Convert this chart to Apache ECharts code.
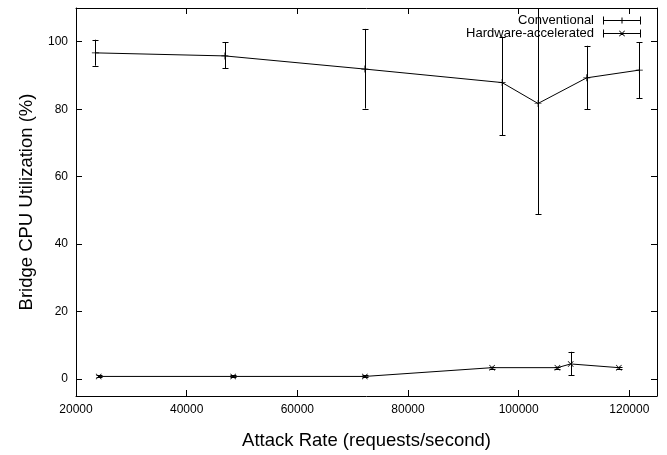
<!DOCTYPE html>
<html><head><meta charset="utf-8">
<script src="https://cdn.jsdelivr.net/npm/echarts@6/dist/echarts.min.js"></script>
<style>html,body{margin:0;padding:0;background:#fff}#c{width:667px;height:455px}</style>
</head><body><div id="c"></div>
<script>
// Conventional
const convX = [23500, 46900, 72200, 97000, 103500, 112300, 121800];
const convY = [96.7, 95.8, 91.9, 87.9, 81.7, 89.3, 91.6];
const convLow = [92.9, 92.1, 80.2, 72.3, 48.9, 80.0, 83.3];
const convHigh = [100.6, 99.8, 103.8, 101.5, 125, 98.8, 99.8];
// Hardware-accelerated
const hwX = [24100, 48400, 72200, 95200, 107000, 109400, 118100];
const hwY = [0.8, 0.8, 0.8, 3.4, 3.4, 4.5, 3.4];
const hwLow = [0.5, 0.5, 0.5, 3.1, 3.1, 1.1, 3.1];
const hwHigh = [1.1, 1.1, 1.1, 3.7, 3.7, 8.1, 3.7];
// Axes
const xMin = 20000, xMax = 125000, xInterval = 20000;
const yMin = -5, yMax = 110;
const seriesNames = ['Conventional', 'Hardware-accelerated'];
const xTitle = 'Attack Rate (requests/second)';
const yTitle = 'Bridge CPU Utilization (%)';

const FONT = 'Liberation Sans, Arial, sans-serif';
const plusSym = 'path://M0,4.5h10v1h-10z M4.5,0h1v10h-1z';
const crossSym = 'path://M0,0.8L0.8,0L10,9.2L9.2,10Z M9.2,0L10,0.8L0.8,10L0,9.2Z';
const legPlus = 'path://M0,0h1v8h-1z M37,0h1v8h-1z M0,3.5h38v1h-38z M18.5,1h1v6h-1z';
const legCross = 'path://M0,0h1v8h-1z M37,0h1v8h-1z M0,3.5h38v1h-38z M16,1.6L16.6,1L22,6.4L21.4,7Z M21.4,1L22,1.6L16.6,7L16,6.4Z';

function zip2(a, b) { return a.map((v, i) => [v, b[i]]); }
function zip3(a, b, c) { return a.map((v, i) => [v, b[i], c[i]]); }

function errRender(params, api) {
  const x = api.value(0), lo = api.value(1), hi = api.value(2);
  const pLo = api.coord([x, lo]), pHi = api.coord([x, hi]);
  const cs = params.coordSys;
  const top = cs.y, bottom = cs.y + cs.height;
  const hw = 3;
  const st = { stroke: '#000', lineWidth: 1 };
  const cx = Math.round(pLo[0]) + 0.5;
  const y1 = Math.max(pHi[1], top), y2 = Math.min(pLo[1], bottom);
  const children = [{ type: 'line', shape: { x1: cx, y1: y1, x2: cx, y2: y2 }, style: st }];
  if (pHi[1] >= top) {
    const yy = Math.round(pHi[1]) + 0.5;
    children.push({ type: 'line', shape: { x1: cx - hw, y1: yy, x2: cx + hw, y2: yy }, style: st });
  }
  if (pLo[1] <= bottom) {
    const yy = Math.round(pLo[1]) + 0.5;
    children.push({ type: 'line', shape: { x1: cx - hw, y1: yy, x2: cx + hw, y2: yy }, style: st });
  }
  return { type: 'group', children: children };
}

const axisCommon = {
  type: 'value',
  axisLine: { show: true, onZero: false, lineStyle: { color: '#000', width: 1 } },
  axisTick: { show: true, inside: true, length: 6, lineStyle: { color: '#000', width: 1 } },
  splitLine: { show: false }
};

const chart = echarts.init(document.getElementById('c'), null, { renderer: 'canvas' });
chart.setOption({
  animation: false,
  backgroundColor: '#fff',
  textStyle: { fontFamily: FONT },
  grid: { left: 76, right: 10, top: 8, bottom: 59, containLabel: false, outerBoundsMode: 'none' },
  legend: {
    orient: 'vertical', right: 26, top: 14, align: 'right', padding: 0,
    itemWidth: 38, itemHeight: 8, itemGap: 0,
    textStyle: { fontFamily: FONT, fontSize: 13, color: '#000', lineHeight: 13, padding: [0, 4, 0, 0] },
    data: [{ name: seriesNames[0], icon: legPlus }, { name: seriesNames[1], icon: legCross }],
    selectedMode: false
  },
  xAxis: [
    Object.assign({}, axisCommon, {
      position: 'bottom', min: xMin, max: xMax, interval: xInterval,
      name: xTitle, nameLocation: 'middle', nameGap: 35,
      nameTextStyle: { fontFamily: FONT, fontSize: 18.5, color: '#000' },
      axisLabel: { color: '#000', fontFamily: FONT, fontSize: 12, margin: 8, showMaxLabel: false,
        formatter: function (v) { return String(v); } }
    }),
    Object.assign({}, axisCommon, {
      position: 'top', min: xMin, max: xMax, interval: xInterval,
      axisLabel: { show: false }
    })
  ],
  yAxis: [
    Object.assign({}, axisCommon, {
      position: 'left', min: yMin, max: yMax,
      name: yTitle, nameLocation: 'middle', nameGap: 40,
      nameTextStyle: { fontFamily: FONT, fontSize: 18.5, color: '#000' },
      axisLabel: { color: '#000', fontFamily: FONT, fontSize: 12, margin: 8, showMinLabel: false, showMaxLabel: false }
    }),
    Object.assign({}, axisCommon, {
      position: 'right', min: yMin, max: yMax,
      axisLabel: { show: false }
    })
  ],
  series: [
    {
      name: seriesNames[0], type: 'line', data: zip2(convX, convY),
      symbol: plusSym, symbolSize: 7, showAllSymbol: true,
      lineStyle: { color: '#000', width: 1 }, itemStyle: { color: '#000', borderWidth: 0 },
      emphasis: { disabled: true }, z: 3
    },
    {
      name: seriesNames[1], type: 'line', data: zip2(hwX, hwY),
      symbol: crossSym, symbolSize: 6, showAllSymbol: true,
      lineStyle: { color: '#000', width: 1 }, itemStyle: { color: '#000', borderWidth: 0 },
      emphasis: { disabled: true }, z: 3
    },
    {
      name: 'convErr', type: 'custom', renderItem: errRender,
      data: zip3(convX, convLow, convHigh), encode: { x: 0, y: [1, 2] }, z: 2, silent: true
    },
    {
      name: 'hwErr', type: 'custom', renderItem: errRender,
      data: zip3(hwX, hwLow, hwHigh), encode: { x: 0, y: [1, 2] }, z: 2, silent: true
    }
  ]
});
</script></body></html>
